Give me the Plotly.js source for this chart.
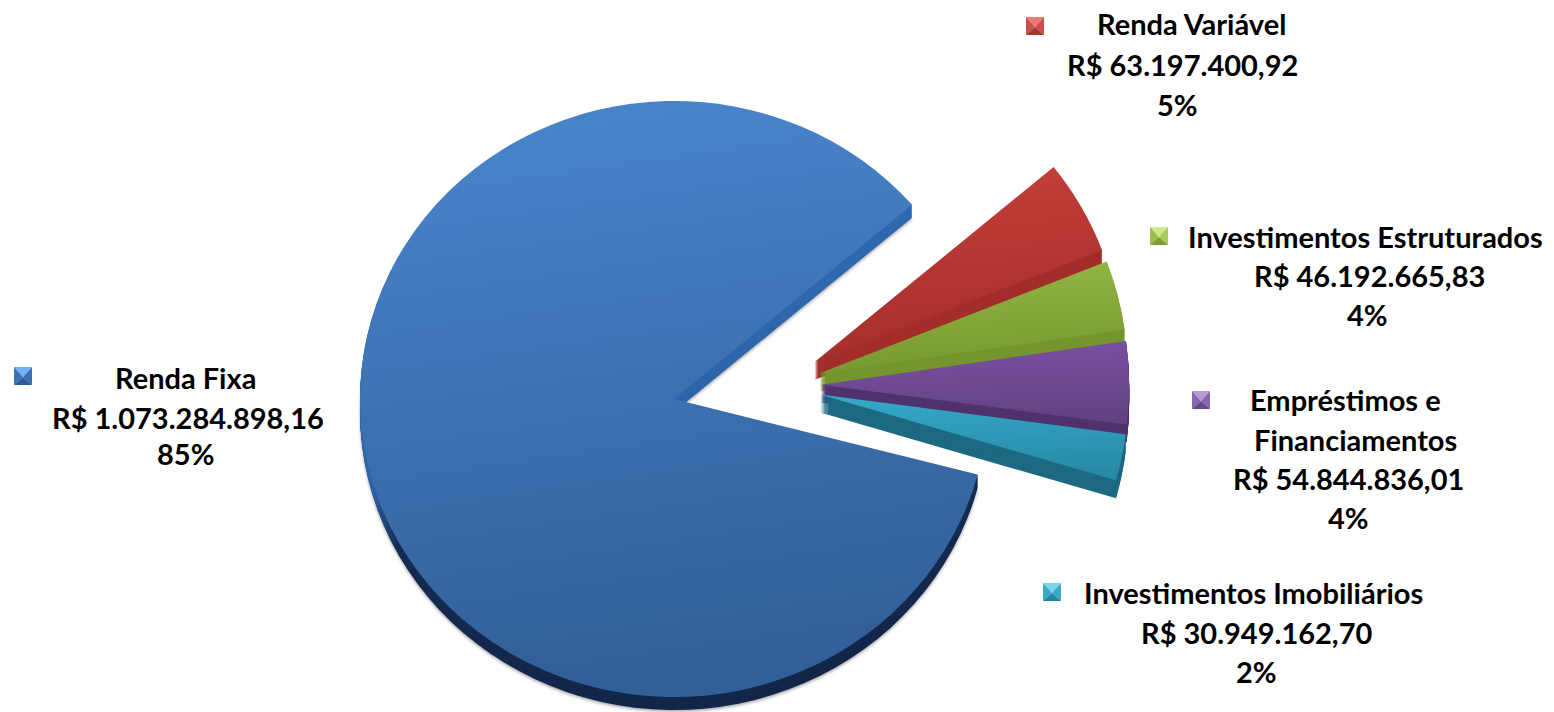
<!DOCTYPE html>
<html><head><meta charset="utf-8">
<script src="https://cdn.plot.ly/plotly-3.0.1.min.js"></script>
<style>html,body{margin:0;padding:0;background:#fff;overflow:hidden}#chart{width:1554px;height:712px}</style>
</head><body><div id="chart"></div>
<script>
// ---- data ----
var categories = ['Renda Variável','Investimentos Estruturados','Empréstimos e Financiamentos','Investimentos Imobiliários','Renda Fixa'];
var seriesValues = [63197400.92,46192665.83,54844836.01,30949162.70,1073284898.16];
var valueLabels = ['R$ 63.197.400,92','R$ 46.192.665,83','R$ 54.844.836,01','R$ 30.949.162,70','R$ 1.073.284.898,16'];
var percentLabels = ['5%','4%','4%','2%','85%'];
var nameLines = [['Renda Variável'],['Investimentos Estruturados'],['Empréstimos e','Financiamentos'],['Investimentos Imobiliários'],['Renda Fixa']];

// ---- styles ----
var W=1554,H=712;
var NONE='rgba(0,0,0,0)';
var topStops=[['#c7403a','#a52e2c'],['#94b946','#78992f'],['#7c52a3','#634283'],['#35aacb','#298aa6'],['#4a86ce','#315f98']];
var sideCols=['#a32e2b','#75952e','#50336d','#1c6a82'];
var pull=0.15, rotBig=49.3, rotSmall=50.8;
var big={cx:674,cy:399,rx:314,ry:298};
var small={cx:775,cy:385,rx:308,ry:308};
var keys=[
 {x:1035,y:26,c:['#ea7a74','#c9504a','#c9504a','#a83430']},
 {x:1159,y:236,c:['#cfe88a','#9cc04e','#a8cc58','#7f9f34']},
 {x:1201,y:400,c:['#b89ad6','#8a66b2','#8a66b2','#664a8c']},
 {x:1052,y:592,c:['#7ad6ea','#3aa8c8','#3aa8c8','#22849f']},
 {x:23,y:376,c:['#72b4f2','#3a72b8','#3a72b8','#2c5c98']}];
var textLines=[
 [[1191,24],[1182,64],[1177,104]],
 [[1365,236],[1369,276],[1367,314]],
 [[1345,399],[1355,439],[1348,479],[1348,517]],
 [[1253,592],[1256,632],[1256,671]],
 [[185,377],[188,417],[185,453]]];

function pieTrace(colors,pulls,rot){
  return {type:'pie',labels:categories,values:seriesValues,sort:false,direction:'clockwise',rotation:rot,
    textinfo:'none',hoverinfo:'skip',showlegend:false,pull:pulls,
    domain:{x:[0,1],y:[0,1]},marker:{colors:colors,line:{width:0}}};
}
var traces=[],plan=[];
var bigOnly=[NONE,NONE,NONE,NONE,'#2e6cb4'];
for(var d=13;d>=1;d-=1){traces.push(pieTrace(bigOnly,0,rotBig));plan.push({g:big,d:d,big:true,side:true,first:d===13});}
traces.push(pieTrace(bigOnly,0,rotBig));plan.push({g:big,d:0,big:true,side:false});
var noBig=[pull,pull,pull,pull,0];
for(var e=18;e>=1;e-=1){traces.push(pieTrace(sideCols.concat([NONE]),noBig,rotSmall));plan.push({g:small,d:e,big:false,side:true});}
traces.push(pieTrace(topStops.slice(0,4).map(function(s){return s[0];}).concat([NONE]),noBig,rotSmall));plan.push({g:small,d:0,big:false,side:false});

var annotations=[];
categories.forEach(function(c,i){
  nameLines[i].concat([valueLabels[i],percentLabels[i]]).forEach(function(t,j){
    annotations.push({xref:'paper',yref:'paper',x:textLines[i][j][0]/W,y:1-textLines[i][j][1]/H,text:'<b>'+t+'</b>',
      showarrow:false,xanchor:'center',yanchor:'middle',font:{family:'Lato, Carlito, sans-serif',size:29,color:'#000'}});
  });
});
var shapes=[];
function px(x){return (x/W).toFixed(5);} function py(y){return (1-y/H).toFixed(5);}
function tri(a,b,c,col){shapes.push({type:'path',xref:'paper',yref:'paper',line:{width:0},fillcolor:col,
  path:'M'+px(a[0])+','+py(a[1])+'L'+px(b[0])+','+py(b[1])+'L'+px(c[0])+','+py(c[1])+'Z'});}
keys.forEach(function(k){
  var s=9,C=[k.x,k.y+1],tl=[k.x-s,k.y-s],tr=[k.x+s,k.y-s],bl=[k.x-s,k.y+s],br=[k.x+s,k.y+s];
  tri(tl,tr,C,k.c[0]);tri(tr,br,C,k.c[2]);tri(bl,tl,C,k.c[1]);tri(br,bl,C,k.c[3]);
});

var layout={width:W,height:H,margin:{l:0,r:0,t:0,b:0},paper_bgcolor:'#fff',plot_bgcolor:'#fff',showlegend:false,annotations:annotations,shapes:shapes};

Plotly.newPlot('chart',traces,layout,{displayModeBar:false,staticPlot:true}).then(function(gd){
  var NS='http://www.w3.org/2000/svg';
  var defs=gd.querySelector('svg.main-svg defs');
  function grad(id,stops){
    var g=document.createElementNS(NS,'linearGradient');g.setAttribute('id',id);
    g.setAttribute('x1','0');g.setAttribute('y1','0');g.setAttribute('x2','0.15');g.setAttribute('y2','1');
    stops.forEach(function(s){var t=document.createElementNS(NS,'stop');t.setAttribute('offset',s[0]);t.setAttribute('stop-color',s[1]);g.appendChild(t);});
    defs.appendChild(g);
  }
  topStops.forEach(function(s,i){grad('top'+i,[[0,s[0]],[1,s[1]]]);});
  grad('bigSide',[[0,'#2f6eb8'],[0.63,'#2c63a8'],[0.73,'#152c52'],[1,'#12264a']]);
  var groups=gd.querySelectorAll('.pielayer .trace');
  groups.forEach(function(g,i){
    var p=plan[i],cd=356,r=p.big?356:356/(1+pull);
    g.setAttribute('transform','translate('+p.g.cx+','+(p.g.cy+p.d)+') scale('+(p.g.rx/r)+','+(p.g.ry/r)+') translate('+(-777)+','+(-cd)+')');
    if(p.first){g.style.filter='drop-shadow(0 2px 2px rgba(0,0,0,.35))';}
    g.querySelectorAll('.slice').forEach(function(sl,n){
      var path=sl.querySelector('path.surface');
      if(!path)return;
      if(p.big&&n===4){path.style.fill=p.side?'url(#bigSide)':'url(#top4)';}
      if(!p.big&&!p.side&&n<4){path.style.fill='url(#top'+n+')';}
    });
  });
});
</script></body></html>
